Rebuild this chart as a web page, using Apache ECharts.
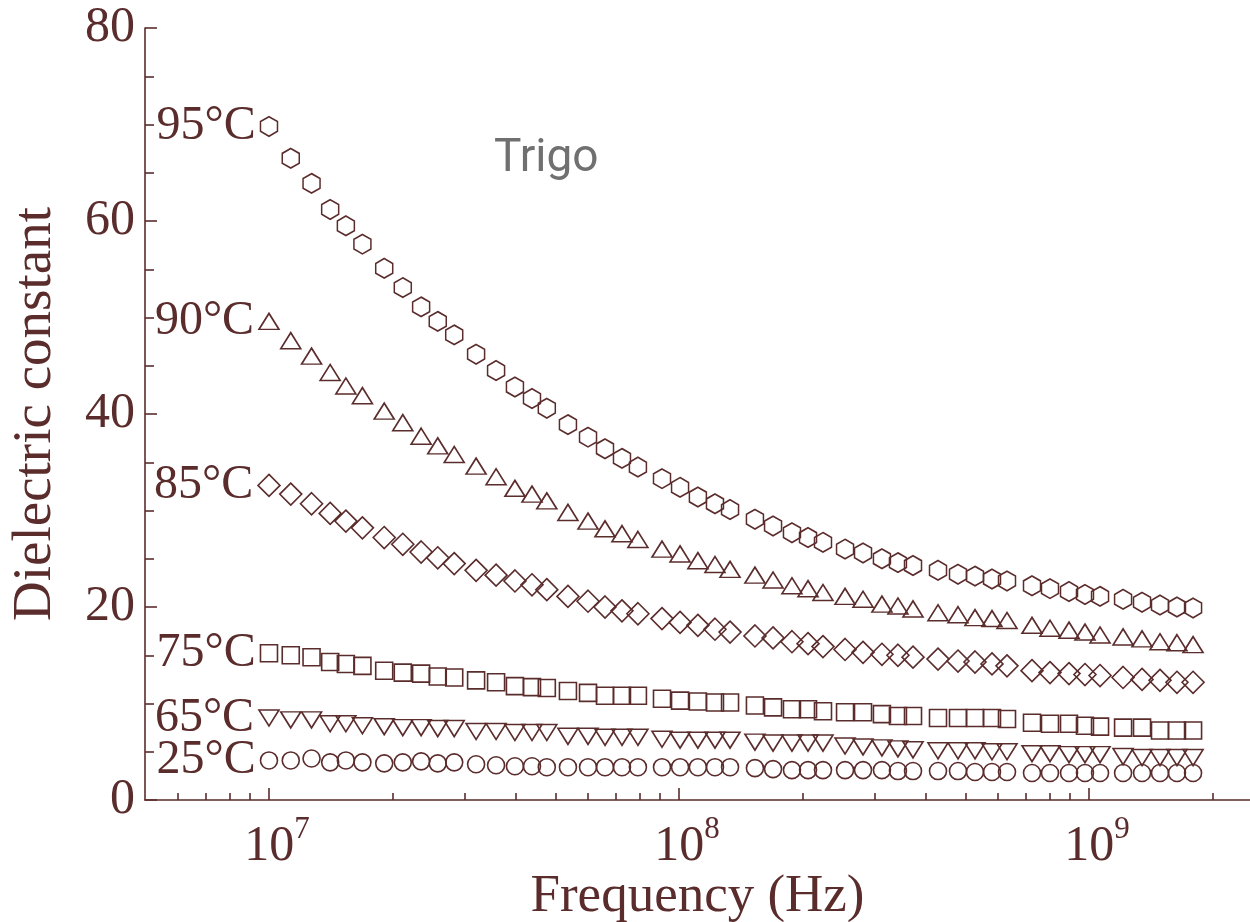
<!DOCTYPE html>
<html>
  <head>
    <meta charset="UTF-8" />
    <title>Trigo - dielectric constant</title>
    <style>
      html, body { margin: 0; padding: 0; background: #fff; }
      #chart { width: 1250px; height: 922px; }
    </style>
    <script src="https://cdn.jsdelivr.net/npm/echarts@6/dist/echarts.min.js"></script>
  </head>
  <body>
    <div id="chart"></div>
    <script>
      // measured frequencies (MHz), same for every temperature
      var freqMHz = [
        10, 11.3, 12.7, 14.1, 15.4, 16.9,
        19.1, 21.2, 23.5, 25.8, 28.3,
        32.0, 35.8, 39.8, 43.8, 47.6,
        53.6, 60.0, 66.0, 72.6, 79.4,
        90.9, 100.6, 111.2, 122.4, 133.2,
        153.2, 169.6, 188.6, 206.4, 224.5,
        254.1, 281.1, 312.6, 342.0, 372.2,
        428.3, 479.2, 527.2, 580.0, 631.0,
        726.1, 803.3, 893.9, 977.7, 1064,
        1211, 1347, 1490, 1639, 1794
      ];

      var eps95 = [
        69.8, 66.5, 63.9, 61.2, 59.5, 57.6,
        55.1, 53.1, 51.1, 49.6, 48.2,
        46.2, 44.5, 42.8, 41.6, 40.6,
        38.9, 37.6, 36.4, 35.4, 34.5,
        33.3, 32.4, 31.4, 30.7, 30.1,
        29.1, 28.4, 27.7, 27.2, 26.7,
        26.0, 25.6, 25.0, 24.6, 24.3,
        23.8, 23.4, 23.2, 22.9, 22.7,
        22.2, 21.9, 21.6, 21.3, 21.1,
        20.8, 20.5, 20.2, 20.0, 19.9
      ];
      var eps90 = [
        49.6, 47.6, 46.0, 44.3, 42.9, 41.9,
        40.3, 39.1, 37.7, 36.7, 35.8,
        34.6, 33.5, 32.3, 31.7, 31.0,
        29.8, 28.9, 28.1, 27.6, 27.0,
        26.0, 25.5, 24.8, 24.4, 23.9,
        23.3, 22.8, 22.2, 21.9, 21.5,
        21.1, 20.8, 20.3, 20.1, 19.8,
        19.4, 19.2, 18.9, 18.8, 18.6,
        18.1, 17.8, 17.6, 17.4, 17.1,
        16.9, 16.7, 16.4, 16.3, 16.1
      ];
      var eps85 = [
        32.6, 31.7, 30.7, 29.7, 28.9, 28.2,
        27.2, 26.5, 25.7, 25.1, 24.5,
        23.8, 23.3, 22.7, 22.3, 21.8,
        21.1, 20.6, 20.0, 19.6, 19.3,
        18.8, 18.4, 18.1, 17.7, 17.4,
        17.0, 16.8, 16.4, 16.2, 15.9,
        15.6, 15.3, 15.1, 15.0, 14.8,
        14.6, 14.4, 14.3, 14.1, 13.9,
        13.4, 13.2, 13.1, 13.0, 12.9,
        12.7, 12.5, 12.4, 12.2, 12.2
      ];
      var eps75 = [
        15.2, 15.0, 14.8, 14.3, 14.1, 13.9,
        13.4, 13.2, 13.1, 12.8, 12.7,
        12.4, 12.2, 11.8, 11.7, 11.6,
        11.3, 11.1, 10.8, 10.8, 10.8,
        10.5, 10.3, 10.2, 10.1, 10.1,
        9.8, 9.6, 9.4, 9.4, 9.2,
        9.1, 9.1, 8.9, 8.7, 8.7,
        8.5, 8.5, 8.5, 8.5, 8.4,
        8.0, 7.9, 7.9, 7.7, 7.6,
        7.5, 7.5, 7.2, 7.2, 7.2
      ];
      var eps65 = [
        8.5, 8.3, 8.3, 7.9, 7.9, 7.7,
        7.6, 7.5, 7.5, 7.4, 7.4,
        7.1, 7.1, 7.0, 7.0, 7.0,
        6.6, 6.6, 6.5, 6.5, 6.5,
        6.3, 6.2, 6.2, 6.2, 6.2,
        6.0, 5.9, 5.9, 5.9, 5.9,
        5.6, 5.5, 5.4, 5.3, 5.2,
        5.1, 5.1, 5.1, 5.0, 5.0,
        4.8, 4.8, 4.7, 4.7, 4.7,
        4.5, 4.4, 4.4, 4.4, 4.4
      ];
      var eps25 = [
        4.1, 4.1, 4.3, 3.9, 4.1, 3.9,
        3.8, 3.9, 4.0, 3.8, 3.9,
        3.7, 3.6, 3.5, 3.5, 3.4,
        3.4, 3.4, 3.4, 3.4, 3.4,
        3.4, 3.4, 3.4, 3.4, 3.4,
        3.3, 3.2, 3.1, 3.1, 3.1,
        3.1, 3.1, 3.1, 3.0, 3.0,
        3.0, 3.0, 2.9, 2.9, 2.9,
        2.8, 2.8, 2.8, 2.8, 2.8,
        2.8, 2.8, 2.8, 2.8, 2.8
      ];

      var tempNames = ["95°C", "90°C", "85°C", "75°C", "65°C", "25°C"];
      var tempValues = [eps95, eps90, eps85, eps75, eps65, eps25];

      // x axis ticks, in Hz
      var majorTicksHz = [1e7, 1e8, 1e9];
      var minorTicksHz = [
        6e6, 7e6, 8e6, 9e6,
        2e7, 3e7, 4e7, 5e7, 6e7, 7e7, 8e7, 9e7,
        2e8, 3e8, 4e8, 5e8, 6e8, 7e8, 8e8, 9e8,
        2e9
      ];

      var ink = "#5b2c2c";
      var serif = "'Liberation Serif', 'DejaVu Serif', serif";
      var hexagon = "path://M0,-10L8.66,-5L8.66,5L0,10L-8.66,5L-8.66,-5Z";

      // marker for each temperature
      var markers = [
        { symbol: hexagon, size: [17, 19.5], rotate: 0 },
        { symbol: "triangle", size: [20, 16], rotate: 0 },
        { symbol: "diamond", size: [22, 22], rotate: 0 },
        { symbol: "rect", size: [17, 17], rotate: 0 },
        { symbol: "triangle", size: [20, 16], rotate: 180 },
        { symbol: "circle", size: [17, 17], rotate: 0 }
      ];

      function lg(v) {
        return Math.log10(v);
      }

      var xMin = 6.6976; // left end of the axis
      var xMax = 9.3927; // right edge of the picture

      var series = tempNames.map(function (name, i) {
        var vals = tempValues[i];
        return {
          name: name,
          type: "scatter",
          symbol: markers[i].symbol,
          symbolSize: markers[i].size,
          symbolRotate: markers[i].rotate,
          itemStyle: {
            color: "rgba(0,0,0,0)",
            borderColor: ink,
            borderWidth: 1.6,
            opacity: 1
          },
          label: {
            show: true,
            position: "left",
            distance: 4,
            color: ink,
            textBorderWidth: 0,
            fontFamily: serif,
            fontSize: 48,
            formatter: function (p) {
              return p.dataIndex === 0 ? p.seriesName : "";
            }
          },
          data: freqMHz.map(function (f, k) {
            return [lg(f * 1e6), vals[k]];
          })
        };
      });

      var chart = echarts.init(document.getElementById("chart"));
      chart.setOption({
        animation: false,
        backgroundColor: "#fff",
        title: {
          text: "Trigo",
          left: 489,
          top: 131,
          textStyle: {
            color: "#707070",
            fontFamily: "Roboto, 'Open Sans', sans-serif",
            fontWeight: "normal",
            fontSize: 46
          }
        },
        grid: {
          left: 145,
          top: 28,
          right: 0,
          bottom: 122,
          containLabel: false,
          outerBoundsMode: "none"
        },
        xAxis: [
          {
            type: "value",
            min: xMin,
            max: xMax,
            name: "Frequency (Hz)",
            nameLocation: "middle",
            nameGap: 71,
            nameMoveOverlap: false,
            nameTextStyle: { color: ink, fontFamily: serif, fontSize: 53 },
            axisLine: { onZero: false, lineStyle: { color: ink, width: 1.6 } },
            axisTick: {
              inside: true,
              length: 12,
              customValues: majorTicksHz.map(lg),
              lineStyle: { color: ink, width: 1.6 }
            },
            axisLabel: {
              margin: 14,
              customValues: majorTicksHz.map(lg),
              formatter: function (v) {
                return "{p|}{b|10}{s|" + Math.round(v) + "}";
              },
              rich: {
                p: { width: 16 },
                b: { color: ink, fontFamily: serif, fontSize: 50, lineHeight: 56, padding: [10, 0, 0, 0] },
                s: { color: ink, fontFamily: serif, fontSize: 31, lineHeight: 31, verticalAlign: "top" }
              }
            },
            splitLine: { show: false }
          },
          {
            type: "value",
            min: xMin,
            max: xMax,
            position: "bottom",
            axisLine: { show: false },
            axisTick: {
              inside: true,
              length: 7,
              customValues: minorTicksHz.map(lg),
              lineStyle: { color: ink, width: 1.6 }
            },
            axisLabel: { show: false },
            splitLine: { show: false }
          }
        ],
        yAxis: {
          type: "value",
          min: 0,
          max: 80,
          interval: 20,
          name: "Dielectric constant",
          nameLocation: "middle",
          nameGap: 82,
          nameMoveOverlap: false,
          nameTextStyle: { color: ink, fontFamily: serif, fontSize: 55 },
          axisLine: { show: true, onZero: false, lineStyle: { color: ink, width: 1.6 } },
          axisTick: { show: true, inside: true, length: 12, lineStyle: { color: ink, width: 1.6 } },
          minorTick: { show: true, splitNumber: 4, length: 9, lineStyle: { color: ink, width: 1.6 } },
          axisLabel: { margin: 10, color: ink, fontFamily: serif, fontSize: 50 },
          splitLine: { show: false },
          minorSplitLine: { show: false }
        },
        series: series
      });
    </script>
  </body>
</html>
